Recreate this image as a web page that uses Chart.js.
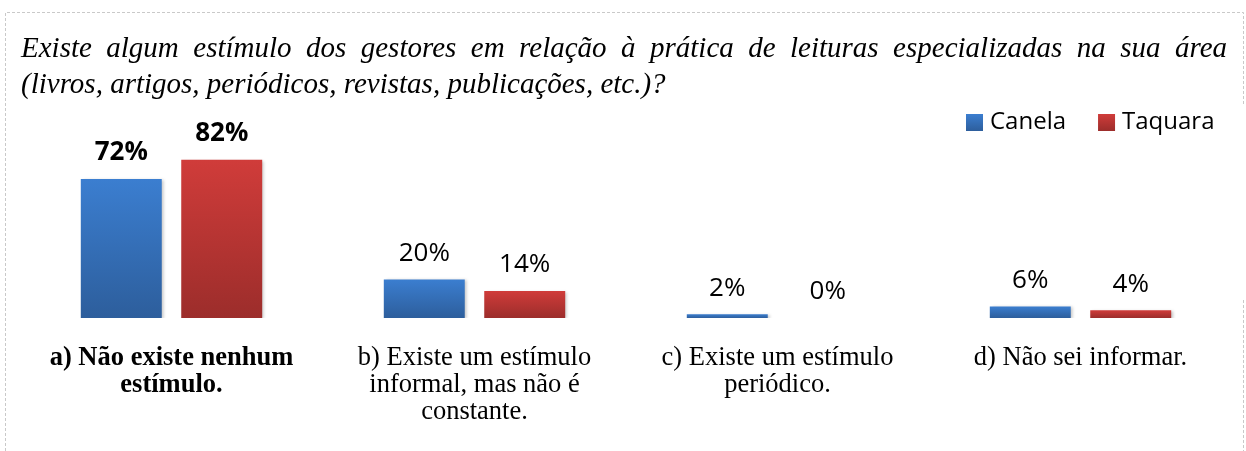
<!DOCTYPE html>
<html>
<head>
<meta charset="utf-8">
<script src="https://cdn.jsdelivr.net/npm/chart.js@4"></script>
<style>
  html, body { margin: 0; padding: 0; background: #fff; }
  #wrap { width: 1246px; height: 451px; position: relative; }
</style>
</head>
<body>
<div id="wrap"><canvas id="chart" width="1246" height="451"></canvas></div>
<script>
// data
const categories = [
  ["a) Não existe nenhum", "estímulo."],
  ["b) Existe um estímulo", "informal, mas não é", "constante."],
  ["c) Existe um estímulo", "periódico."],
  ["d) Não sei informar."]
];
const canela = [72, 20, 2, 6];
const taquara = [82, 14, 0, 4];
const seriesNames = ["Canela", "Taquara"];
const titleLines = [
  "Existe algum estímulo dos gestores em relação à prática de leituras especializadas na sua área",
  "(livros, artigos, periódicos, revistas, publicações, etc.)?"
];

const colors = {
  Canela: { top: "#3b7ed0", bottom: "#2d5e9c" },
  Taquara: { top: "#d03c3a", bottom: "#9c2d2b" }
};

// vertical gradient per bar, from the bar top down to the baseline
function barGradient(name) {
  return (ctx) => {
    const chart = ctx.chart;
    const c = colors[name];
    if (!chart.chartArea || ctx.type !== "data") return c.top;
    const y = chart.scales.y;
    const top = y.getPixelForValue(ctx.raw);
    const bottom = y.getPixelForValue(0);
    if (bottom - top < 1) return c.top;
    const g = chart.ctx.createLinearGradient(0, top, 0, bottom);
    g.addColorStop(0, c.top);
    g.addColorStop(1, c.bottom);
    return g;
  };
}

// border, justified title and legend drawn around the chart
const framePlugin = {
  id: "frame",
  beforeDraw(chart) {
    const ctx = chart.ctx;
    ctx.save();
    ctx.strokeStyle = "#c9c9c9";
    ctx.lineWidth = 1;
    ctx.setLineDash([3, 2]);
    ctx.beginPath();
    ctx.moveTo(5.5, 451); ctx.lineTo(5.5, 12.5); ctx.lineTo(1243.5, 12.5); ctx.lineTo(1243.5, 105);
    ctx.moveTo(1243.5, 300); ctx.lineTo(1243.5, 451);
    ctx.stroke();
    ctx.restore();

    // title, first line justified
    ctx.save();
    ctx.fillStyle = "#000";
    ctx.font = "italic 29px 'Liberation Serif', 'Times New Roman', serif";
    ctx.textBaseline = "alphabetic";
    const left = 21, right = 1227;
    const words = titleLines[0].split(" ");
    const widths = words.map(w => ctx.measureText(w).width);
    const total = widths.reduce((a, b) => a + b, 0);
    const gap = (right - left - total) / (words.length - 1);
    let x = left;
    words.forEach((w, i) => { ctx.fillText(w, x, 57); x += widths[i] + gap; });
    ctx.fillText(titleLines[1], left, 93);
    ctx.restore();

    // legend
    ctx.save();
    ctx.font = "24px 'Open Sans', sans-serif";
    ctx.textBaseline = "middle";
    let lx = 966;
    chart.data.datasets.forEach((ds) => {
      const c = colors[ds.label];
      const g = ctx.createLinearGradient(0, 114, 0, 131);
      g.addColorStop(0, c.top);
      g.addColorStop(1, c.bottom);
      ctx.fillStyle = g;
      ctx.fillRect(lx, 114, 17, 17);
      ctx.fillStyle = "#000";
      ctx.fillText(ds.label, lx + 24, 122);
      lx += 24 + ctx.measureText(ds.label).width + 32;
    });
    ctx.restore();
  },
  beforeDatasetsDraw(chart) {
    const ctx = chart.ctx;
    ctx.save();
    ctx.shadowColor = "rgba(0,0,0,0.22)";
    ctx.shadowBlur = 3;
    ctx.shadowOffsetX = 2;
    ctx.shadowOffsetY = 1;
  },
  afterDatasetsDraw(chart) {
    chart.ctx.restore();
    // value labels above the bars
    const ctx = chart.ctx;
    ctx.save();
    ctx.fillStyle = "#000";
    ctx.textAlign = "center";
    ctx.textBaseline = "middle";
    chart.data.datasets.forEach((ds, di) => {
      chart.getDatasetMeta(di).data.forEach((bar, i) => {
        ctx.font = (i === 0 ? "bold " : "") + "26px 'Open Sans', sans-serif";
        ctx.fillText(ds.data[i] + "%", bar.x, bar.y - 26);
      });
    });
    ctx.restore();
  }
};

new Chart(document.getElementById("chart"), {
  type: "bar",
  data: {
    labels: categories,
    datasets: [
      { label: seriesNames[0], data: canela, backgroundColor: barGradient("Canela") },
      { label: seriesNames[1], data: taquara, backgroundColor: barGradient("Taquara") }
    ]
  },
  options: {
    responsive: false,
    animation: false,
    devicePixelRatio: 1,
    layout: { padding: { top: 125, left: 20, right: 14, bottom: 0 } },
    datasets: {
      bar: { categoryPercentage: 0.663, barPercentage: 0.806 }
    },
    plugins: {
      legend: { display: false },
      title: { display: false },
      tooltip: { enabled: false }
    },
    scales: {
      y: { display: false, min: 0, max: 100 },
      x: {
        grid: { display: false, drawTicks: false },
        border: { display: false },
        afterFit(scale) { scale.height = 133; },
        ticks: {
          padding: 27,
          maxRotation: 0,
          autoSkip: false,
          color: "#000",
          font: (ctx) => ({
            family: "'Liberation Serif', 'Times New Roman', serif",
            size: 26.5,
            lineHeight: 27 / 26.5,
            weight: ctx.index === 0 ? "bold" : "normal"
          })
        }
      }
    }
  },
  plugins: [framePlugin]
});
</script>
</body>
</html>
